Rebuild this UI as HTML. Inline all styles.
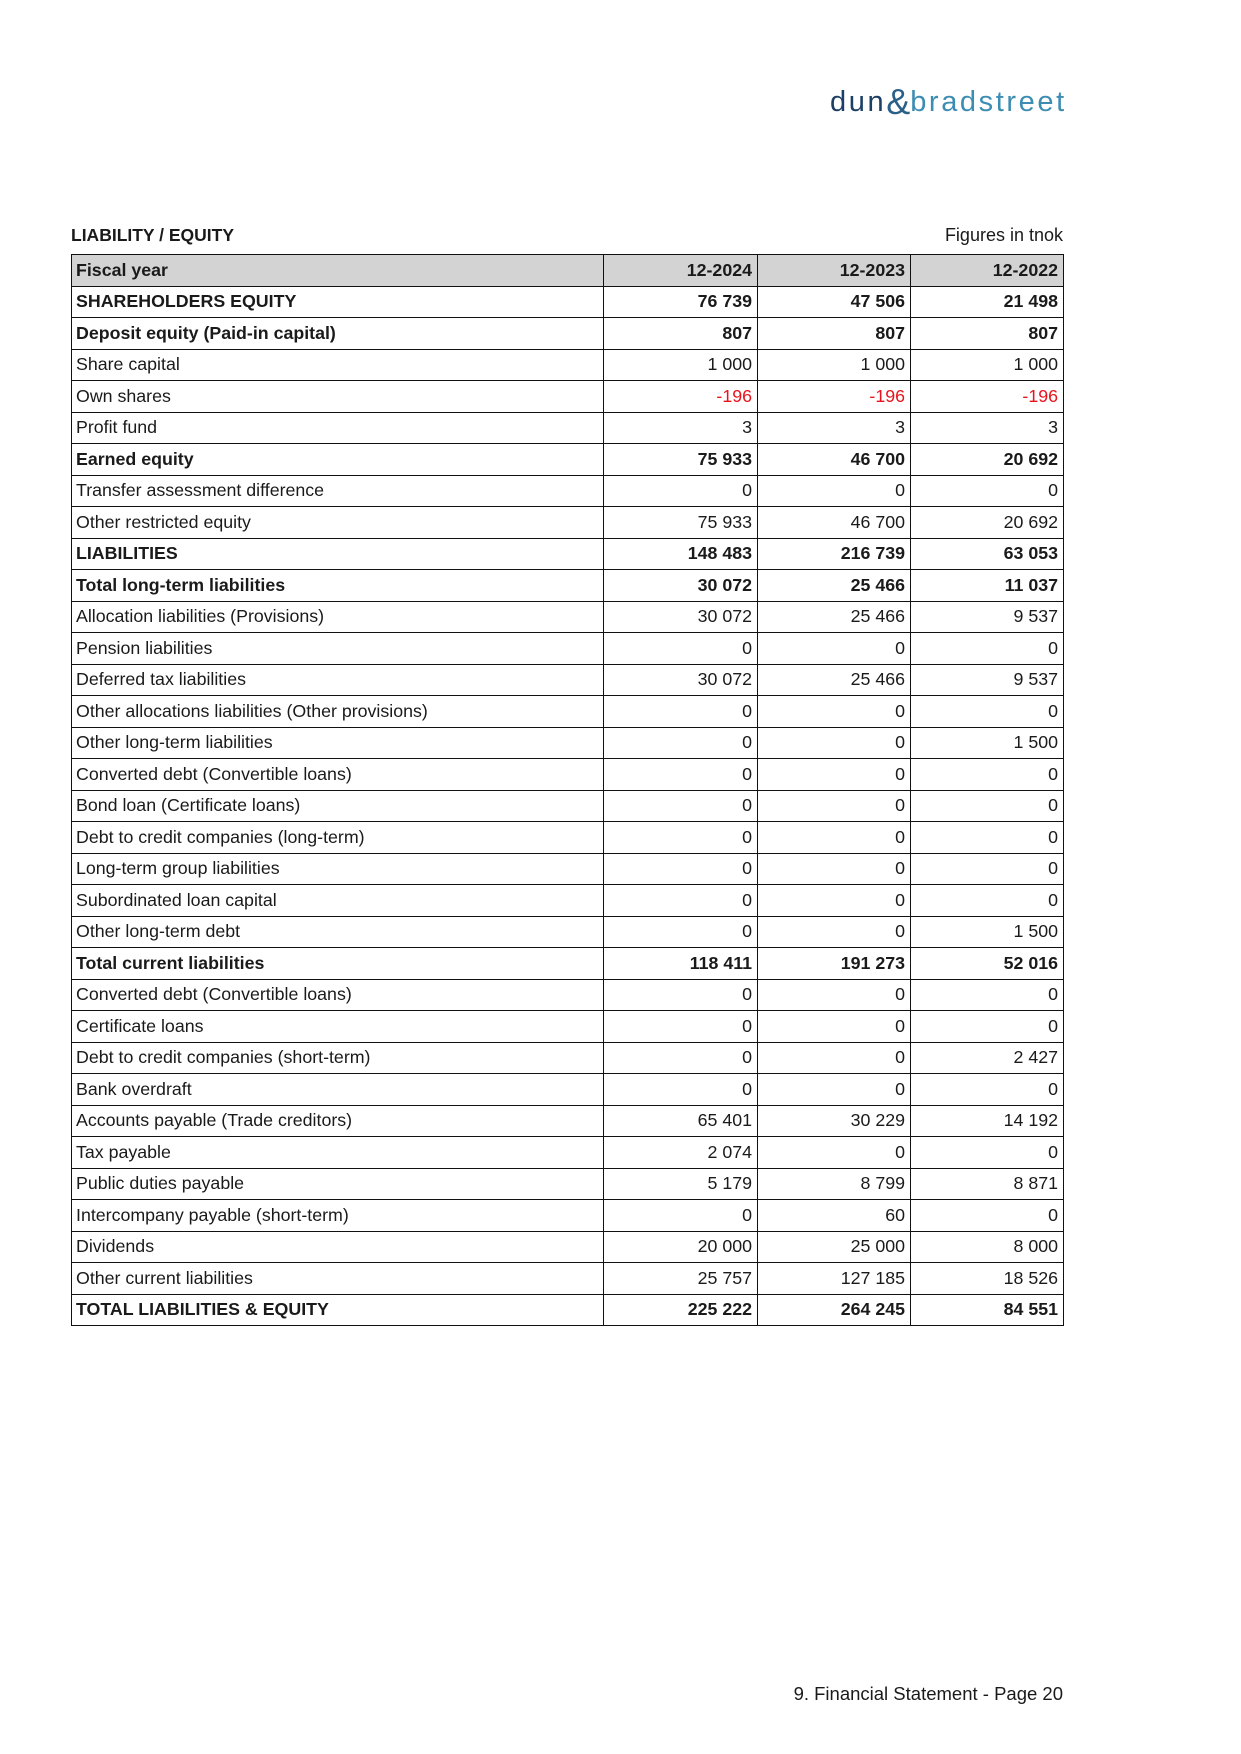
<!DOCTYPE html>
<html><head><meta charset="utf-8"><style>
body{margin:0;width:1241px;height:1754px;background:#fff;position:relative;font-family:"Liberation Sans",Arial,sans-serif;color:#1a1a1a;overflow:hidden}
.logo{position:absolute;left:830px;top:78px;font-size:29px;letter-spacing:2.6px;white-space:nowrap;font-weight:normal}
.logo .d{color:#1d3f63}.logo .a{color:#2a5f88;font-size:36px;letter-spacing:0px;position:relative;top:3px}.logo .b{color:#3d8db3}
.title{position:absolute;left:71px;top:225px;font-size:17.5px;font-weight:bold}
.fig{position:absolute;right:178px;top:225px;font-size:18px}
table{position:absolute;left:71px;top:254px;border-collapse:collapse;font-size:17.8px;table-layout:fixed}
td{border:1.3px solid #111;height:30.5px;padding:0 5px 0 4px;white-space:nowrap}
td.n{text-align:right}
tr.h td{background:#d3d3d3;font-weight:bold}
tr.b td{font-weight:bold}
.r{color:#e8141c}
.foot{position:absolute;right:178px;top:1683px;font-size:18.5px}
</style></head><body>
<div class="logo"><span class="d">dun</span><span class="a">&amp;</span><span class="b">bradstreet</span></div>
<div class="title">LIABILITY / EQUITY</div>
<div class="fig">Figures in tnok</div>
<table>
<colgroup><col style="width:532px"><col style="width:154px"><col style="width:153px"><col style="width:153px"></colgroup>
<tr class="h"><td>Fiscal year</td><td class="n">12-2024</td><td class="n">12-2023</td><td class="n">12-2022</td></tr>
<tr class="b"><td>SHAREHOLDERS EQUITY</td><td class="n">76 739</td><td class="n">47 506</td><td class="n">21 498</td></tr>
<tr class="b"><td>Deposit equity (Paid-in capital)</td><td class="n">807</td><td class="n">807</td><td class="n">807</td></tr>
<tr><td>Share capital</td><td class="n">1 000</td><td class="n">1 000</td><td class="n">1 000</td></tr>
<tr><td>Own shares</td><td class="n r">-196</td><td class="n r">-196</td><td class="n r">-196</td></tr>
<tr><td>Profit fund</td><td class="n">3</td><td class="n">3</td><td class="n">3</td></tr>
<tr class="b"><td>Earned equity</td><td class="n">75 933</td><td class="n">46 700</td><td class="n">20 692</td></tr>
<tr><td>Transfer assessment difference</td><td class="n">0</td><td class="n">0</td><td class="n">0</td></tr>
<tr><td>Other restricted equity</td><td class="n">75 933</td><td class="n">46 700</td><td class="n">20 692</td></tr>
<tr class="b"><td>LIABILITIES</td><td class="n">148 483</td><td class="n">216 739</td><td class="n">63 053</td></tr>
<tr class="b"><td>Total long-term liabilities</td><td class="n">30 072</td><td class="n">25 466</td><td class="n">11 037</td></tr>
<tr><td>Allocation liabilities (Provisions)</td><td class="n">30 072</td><td class="n">25 466</td><td class="n">9 537</td></tr>
<tr><td>Pension liabilities</td><td class="n">0</td><td class="n">0</td><td class="n">0</td></tr>
<tr><td>Deferred tax liabilities</td><td class="n">30 072</td><td class="n">25 466</td><td class="n">9 537</td></tr>
<tr><td>Other allocations liabilities (Other provisions)</td><td class="n">0</td><td class="n">0</td><td class="n">0</td></tr>
<tr><td>Other long-term liabilities</td><td class="n">0</td><td class="n">0</td><td class="n">1 500</td></tr>
<tr><td>Converted debt (Convertible loans)</td><td class="n">0</td><td class="n">0</td><td class="n">0</td></tr>
<tr><td>Bond loan (Certificate loans)</td><td class="n">0</td><td class="n">0</td><td class="n">0</td></tr>
<tr><td>Debt to credit companies (long-term)</td><td class="n">0</td><td class="n">0</td><td class="n">0</td></tr>
<tr><td>Long-term group liabilities</td><td class="n">0</td><td class="n">0</td><td class="n">0</td></tr>
<tr><td>Subordinated loan capital</td><td class="n">0</td><td class="n">0</td><td class="n">0</td></tr>
<tr><td>Other long-term debt</td><td class="n">0</td><td class="n">0</td><td class="n">1 500</td></tr>
<tr class="b"><td>Total current liabilities</td><td class="n">118 411</td><td class="n">191 273</td><td class="n">52 016</td></tr>
<tr><td>Converted debt (Convertible loans)</td><td class="n">0</td><td class="n">0</td><td class="n">0</td></tr>
<tr><td>Certificate loans</td><td class="n">0</td><td class="n">0</td><td class="n">0</td></tr>
<tr><td>Debt to credit companies (short-term)</td><td class="n">0</td><td class="n">0</td><td class="n">2 427</td></tr>
<tr><td>Bank overdraft</td><td class="n">0</td><td class="n">0</td><td class="n">0</td></tr>
<tr><td>Accounts payable (Trade creditors)</td><td class="n">65 401</td><td class="n">30 229</td><td class="n">14 192</td></tr>
<tr><td>Tax payable</td><td class="n">2 074</td><td class="n">0</td><td class="n">0</td></tr>
<tr><td>Public duties payable</td><td class="n">5 179</td><td class="n">8 799</td><td class="n">8 871</td></tr>
<tr><td>Intercompany payable (short-term)</td><td class="n">0</td><td class="n">60</td><td class="n">0</td></tr>
<tr><td>Dividends</td><td class="n">20 000</td><td class="n">25 000</td><td class="n">8 000</td></tr>
<tr><td>Other current liabilities</td><td class="n">25 757</td><td class="n">127 185</td><td class="n">18 526</td></tr>
<tr class="b"><td>TOTAL LIABILITIES &amp; EQUITY</td><td class="n">225 222</td><td class="n">264 245</td><td class="n">84 551</td></tr>
</table>
<div class="foot">9. Financial Statement - Page 20</div>
</body></html>
